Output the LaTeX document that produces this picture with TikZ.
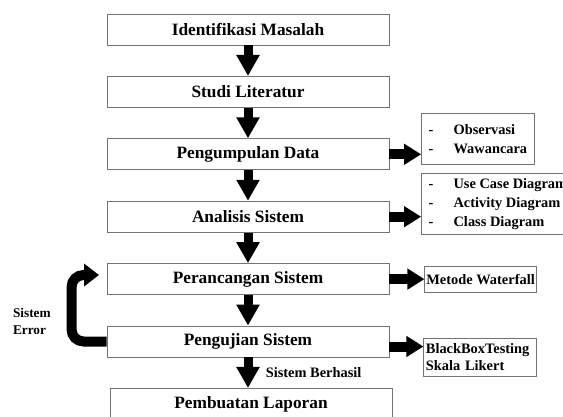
\documentclass[tikz,border=0pt]{standalone}
\usepackage{fontspec}
\setmainfont{Liberation Serif}
\usetikzlibrary{arrows.meta,positioning}

\begin{document}
\begin{tikzpicture}[x=1pt,y=-1pt,
    stage/.style={rectangle, draw=black!55, line width=0.9pt, minimum height=31pt, minimum width=282pt, font=\fontsize{17.3}{20}\selectfont\bfseries},
    side/.style={rectangle, draw=black!55, line width=0.9pt, align=left, font=\fontsize{14.4}{19}\selectfont\bfseries},
    flowarrow/.style={-{Triangle[width=22pt,length=21pt]}, line width=9pt},
    sidearrow/.style={-{Triangle[width=20pt,length=17pt]}, line width=10pt},
    looparrow/.style={-{Triangle[width=22pt,length=15pt]}, line width=10pt},
    node distance=30.5pt]
    \useasboundingbox (0,0) rectangle (563,416);
    \node(ident) [stage] at (248,29.5) {Identifikasi Masalah};
    \node(study) [stage, below=of ident] {Studi Literatur};
    \node(collect) [stage, below=of study] {Pengumpulan Data};
    \node(analysis) [stage, below=of collect] {Analisis Sistem};
    \node(design) [stage, below=of analysis] {Perancangan Sistem};
    \node(test) [stage, below=of design] {Pengujian Sistem};
    \node(report) [stage, below=of test, xshift=3pt] {Pembuatan Laporan};
    % side notes
    \node(obs) [side, inner xsep=7pt, minimum height=51pt, right=31.7pt of collect, yshift=15.6pt]
        {\makebox[25pt][l]{-}Observasi\\\makebox[25pt][l]{-}Wawancara};
    \node(uml) [side, inner xsep=7pt, minimum height=61pt, right=31.7pt of analysis, yshift=13pt]
        {\makebox[25pt][l]{-}Use Case Diagram\\\makebox[25pt][l]{-}Activity Diagram\\\makebox[25pt][l]{-}Class Diagram};
    \node(method) [side, inner xsep=1.5pt, minimum height=26pt, right=35pt of design] {Metode Waterfall};
    \node(bbt) [side, font=\fontsize{14.4}{16.7}\selectfont\bfseries, inner xsep=2pt, text width=109pt, minimum height=38pt, right=34pt of test, yshift=-15.5pt]
        {BlackBoxTesting\\Skala Likert};
    \node(err) [anchor=west, align=left, font=\fontsize{13.3}{16.7}\selectfont\bfseries] at (9.5,321.7) {Sistem\\Error};
    % flow
    \draw[flowarrow] (ident) -- (study);
    \draw[flowarrow] (study) -- (collect);
    \draw[flowarrow] (collect) -- (analysis);
    \draw[flowarrow] (analysis) -- (design);
    \draw[flowarrow] (design) -- (test);
    \draw[flowarrow] (test.south) -- (test.south |- report.north)
        node[midway, right=10pt, font=\fontsize{14.4}{17}\selectfont\bfseries] {Sistem Berhasil};
    \draw[sidearrow] (collect.east) -- (collect.east -| obs.west);
    \draw[sidearrow] (analysis.east) -- (analysis.east -| uml.west);
    \draw[sidearrow] (design.east) -- (design.east -| method.west);
    \coordinate (testout) at ([yshift=-5pt]test.east);
    \draw[sidearrow] (testout) -- (testout -| bbt.west);
    % back to design
    \coordinate (errtip) at (99,275);
    \draw[looparrow, rounded corners=12pt] (test.west) -- ++(-35,0) |- (errtip);
\end{tikzpicture}
\end{document}
